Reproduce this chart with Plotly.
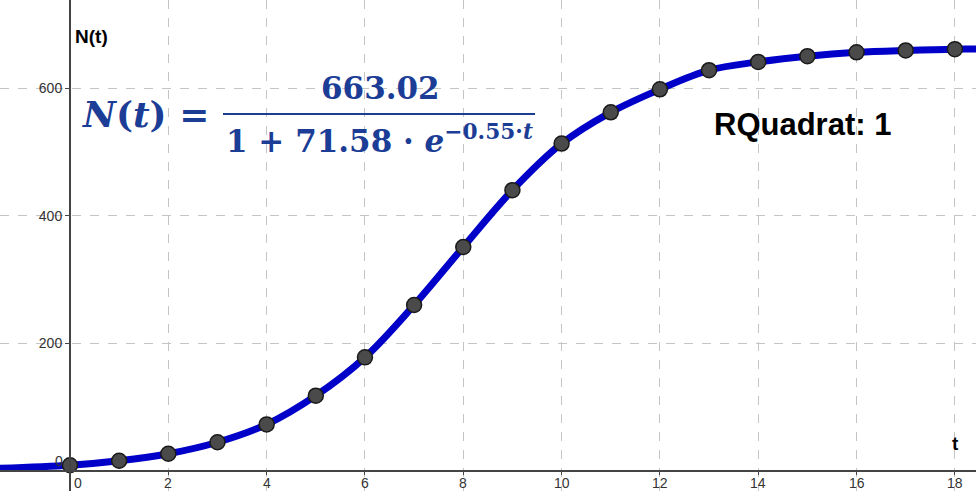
import plotly.graph_objects as go

# ---- data ----
t_vals = list(range(0, 19))
N_vals = [9, 16, 27, 45, 73, 118, 178, 260, 351, 440, 513, 562, 598, 628, 641, 650, 656, 659, 661]

# fitted curve: measured points plus the curve's visible ends at the plot edges
curve_t = [-1.5] + t_vals + [18.5]
curve_N = [4] + N_vals + [661]

x_ticks = [2, 4, 6, 8, 10, 12, 14, 16, 18]
y_ticks = [200, 400, 600]
x_range = [-1.424, 18.43]
y_range = [-31.4, 738]

formula_color = "#1c3d96"
curve_color = "#0000c8"

fig = go.Figure()
fig.add_trace(go.Scatter(
    x=curve_t, y=curve_N, mode="lines", line=dict(color=curve_color, width=7, shape="spline"),
    hoverinfo="skip", showlegend=False))
fig.add_trace(go.Scatter(
    x=t_vals, y=N_vals, mode="markers",
    marker=dict(size=15, color="#4a4a4a", line=dict(color="#1a1a1a", width=1.5)),
    showlegend=False))

x_pos = (0 - x_range[0]) / (x_range[1] - x_range[0])
y_pos = (0 - y_range[0]) / (y_range[1] - y_range[0])

axis_font = dict(family="Liberation Sans, Arial, sans-serif", size=14, color="#333333")

fig.update_layout(
    width=976, height=491,
    margin=dict(l=0, r=0, t=0, b=0),
    paper_bgcolor="white", plot_bgcolor="white",
    xaxis=dict(range=x_range, tickvals=x_ticks, showticklabels=False,
               showgrid=True, gridcolor="#c4c4c4", griddash="dash", gridwidth=1,
               zeroline=False, showline=True, linecolor="#444444", linewidth=2,
               anchor="free", position=y_pos, ticks="outside", ticklen=3, tickcolor="#444444",
               automargin=False, fixedrange=True),
    yaxis=dict(range=y_range, tickvals=y_ticks, ticktext=[str(v) for v in y_ticks],
               showgrid=True, gridcolor="#c4c4c4", griddash="dash", gridwidth=1,
               zeroline=False, showline=True, linecolor="#444444", linewidth=2,
               anchor="free", position=x_pos, ticks="outside", ticklen=4, tickcolor="#444444",
               tickfont=axis_font, automargin=False, fixedrange=True),
)

W, H = 976, 491
def px(x):
    return x / W
def py(y):
    return 1 - y / H

formula_font = dict(family="DejaVu Serif, serif", size=31, color=formula_color)

annotations = [
    dict(x=v, y=0, xref="x", yref="y", text=str(v), showarrow=False, xanchor="center",
         yanchor="top", yshift=-3, borderpad=0, font=axis_font)
    for v in x_ticks
]
annotations += [
    # zero labels
    dict(x=0, y=0, xref="x", yref="y", text="0", showarrow=False, xanchor="left", yanchor="top",
         xshift=3, yshift=-3, borderpad=0, font=axis_font),
    dict(x=0, y=0, xref="x", yref="y", text="0", showarrow=False, xanchor="right", yanchor="bottom",
         xshift=-5, yshift=0, font=axis_font),
    # axis names
    dict(x=px(73), y=py(37), xref="paper", yref="paper", text="<b>N(t)</b>", showarrow=False,
         xanchor="left", yanchor="middle",
         font=dict(family="Liberation Sans, Arial, sans-serif", size=19, color="#000000")),
    dict(x=px(955), y=py(443), xref="paper", yref="paper", text="<b>t</b>", showarrow=False,
         xanchor="center", yanchor="middle",
         font=dict(family="Liberation Sans, Arial, sans-serif", size=19, color="#000000")),
    # RQuadrat
    dict(x=px(802), y=py(124), xref="paper", yref="paper", text="<b>RQuadrat: 1</b>", showarrow=False,
         xanchor="center", yanchor="middle",
         font=dict(family="Liberation Sans, Arial, sans-serif", size=31, color="#000000")),
    # formula
    dict(x=px(145), y=py(114), xref="paper", yref="paper", text="<b><i>N</i>(<i>t</i>) =</b>",
         showarrow=False, xanchor="center", yanchor="middle",
         font=dict(family="DejaVu Serif, serif", size=36, color=formula_color)),
    dict(x=px(380), y=py(88), xref="paper", yref="paper", text="<b>663.02</b>",
         showarrow=False, xanchor="center", yanchor="middle", font=formula_font),
    dict(x=px(379), y=py(139), xref="paper", yref="paper",
         text="<b>1 + 71.58 · <i>e</i><sup>−0.55·<i>t</i></sup></b>",
         showarrow=False, xanchor="center", yanchor="middle", font=formula_font),
]
fig.update_layout(annotations=annotations)
fig.add_shape(type="line", xref="paper", yref="paper", x0=px(223), x1=px(535), y0=py(114), y1=py(114),
              line=dict(color=formula_color, width=2))

fig.write_html("out.html", config={"displayModeBar": False},
               post_script="document.body.style.margin='0';")
